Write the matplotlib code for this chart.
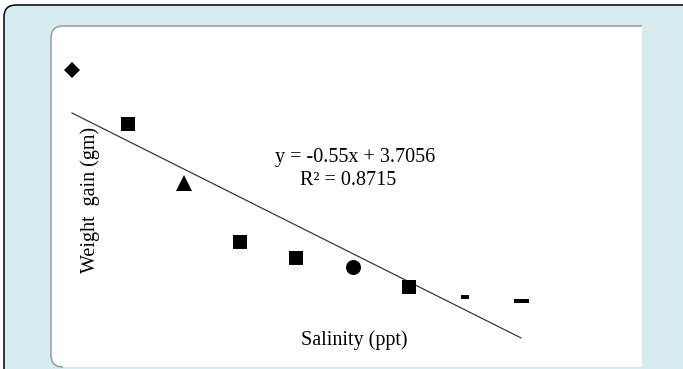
import matplotlib.pyplot as plt
import numpy as np
from matplotlib.path import Path
from matplotlib.patches import PathPatch

plt.rcParams['font.family'] = ['Liberation Serif', 'DejaVu Serif']

# weight gain per salinity step
salinity = [1, 2, 3, 4, 5, 6, 7, 8, 9]
weight_gain = [4.00, 2.95, 1.78, 0.64, 0.31, 0.15, -0.25, -0.45, -0.53]

# linear trend (Excel style)
slope = -0.55
intercept = 3.7056
r_squared = 0.8715

# one marker per point, as in the original sheet
short_dash = [(-1, -0.5), (1, -0.5), (1, 0.5), (-1, 0.5), (-1, -0.5)]
long_dash = [(-1, -0.27), (1, -0.27), (1, 0.27), (-1, 0.27), (-1, -0.27)]
markers = ['D', 's', '^', 's', 's', 'o', 's', short_dash, long_dash]
sizes = [8.6, 10.6, 11.5, 10.6, 10.6, 10.8, 10.6, 5.8, 10.8]

W, H = 683, 369
fig = plt.figure(figsize=(W / 100, H / 100), dpi=100)
fig.patch.set_facecolor('white')

# background panel in pixel units
bg = fig.add_axes([0, 0, 1, 1])
bg.set_xlim(0, W)
bg.set_ylim(H, 0)
bg.axis('off')

blue = '#d6ebf0'
r = 12
outer = [(W + 5, H + 5), (W + 5, 5), (4 + r, 5), (4, 5), (4, 5 + r), (4, H + 5), (W + 5, H + 5)]
codes = [Path.MOVETO, Path.LINETO, Path.LINETO, Path.CURVE3, Path.CURVE3, Path.LINETO, Path.CLOSEPOLY]
bg.add_patch(PathPatch(Path(outer, codes), facecolor=blue, edgecolor='none'))
edge = [(W + 5, 5), (4 + r, 5), (4, 5), (4, 5 + r), (4, H + 5)]
ecodes = [Path.MOVETO, Path.LINETO, Path.CURVE3, Path.CURVE3, Path.LINETO]
bg.add_patch(PathPatch(Path(edge, ecodes), facecolor='none', edgecolor='black', lw=1.1))

# white plot card with grey left/top edge
x0, y0, x1, y1 = 51, 26, 642, 367
card = [(x1, y0), (x0 + r, y0), (x0, y0), (x0, y0 + r), (x0, y1 - r), (x0, y1), (x0 + r, y1),
        (x1, y1), (x1, y0)]
ccodes = [Path.MOVETO, Path.LINETO, Path.CURVE3, Path.CURVE3, Path.LINETO, Path.CURVE3,
          Path.CURVE3, Path.LINETO, Path.CLOSEPOLY]
bg.add_patch(PathPatch(Path(card, ccodes), facecolor='white', edgecolor='none'))
cedge = card[:7]
bg.add_patch(PathPatch(Path(cedge, ccodes[:7]), facecolor='none', edgecolor='#9a9a9a', lw=1.1))

# data axes, no spines or ticks
ax = fig.add_axes([0.06433, 0.0489, 0.7395, 0.8449])
ax.set_xlim(0.5, 9.5)
ax.set_ylim(-1.5, 4.6)
ax.patch.set_alpha(0)
for s in ax.spines.values():
    s.set_visible(False)
ax.set_xticks([])
ax.set_yticks([])

xs = np.array([salinity[0], salinity[-1]])
ax.plot(xs, slope * xs + intercept, color='#3a3a3a', lw=0.9, zorder=2)

for x, y, m, ms in zip(salinity, weight_gain, markers, sizes):
    ax.plot(x, y, linestyle='none', marker=m, markersize=ms, color='black',
            markeredgewidth=0, zorder=3)

bg.text(355, 162, 'y = {:.2f}x + {:.4f}'.format(slope, intercept), ha='center',
        va='baseline', fontsize=14.5, zorder=5)
bg.text(348, 185, 'R² = {}'.format(r_squared), ha='center', va='baseline',
        fontsize=14.5, zorder=5)
bg.text(354, 345, 'Salinity (ppt)', ha='center', va='baseline', fontsize=14.5)
bg.text(90, 200, 'Weight  gain (gm)', ha='center', va='center', rotation=90,
        fontsize=14.5)

fig.savefig('out.png', dpi=100)
